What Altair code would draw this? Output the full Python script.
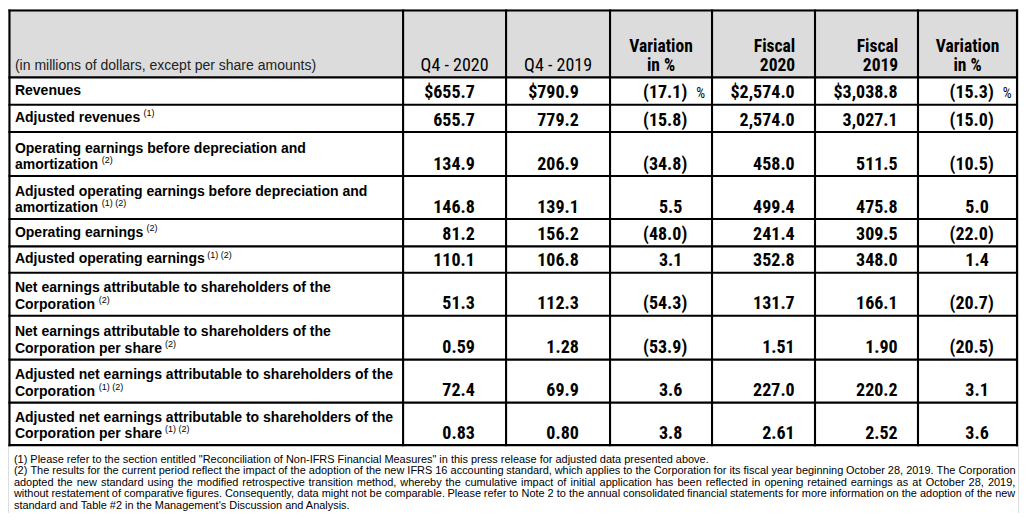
import altair as alt
import pandas as pd

# ---------------- data ----------------
unit_note = "(in millions of dollars, except per share amounts)"
col_headers = [["Q4 - 2020"], ["Q4 - 2019"], ["Variation", "in %"],
               ["Fiscal", "2020"], ["Fiscal", "2019"], ["Variation", "in %"]]
row_labels = [
    ["Revenues"],
    ["Adjusted revenues"],
    ["Operating earnings before depreciation and", "amortization"],
    ["Adjusted operating earnings before depreciation and", "amortization"],
    ["Operating earnings"],
    ["Adjusted operating earnings"],
    ["Net earnings attributable to shareholders of the", "Corporation"],
    ["Net earnings attributable to shareholders of the", "Corporation per share"],
    ["Adjusted net earnings attributable to shareholders of the", "Corporation"],
    ["Adjusted net earnings attributable to shareholders of the", "Corporation per share"],
]
row_notes = ["", "(1)", "(2)", "(1) (2)", "(2)", "(1) (2)", "(2)", "(2)", "(1) (2)", "(1) (2)"]
decimals = [1, 1, 1, 1, 1, 1, 1, 2, 1, 2]
q4_2020 = [655.7, 655.7, 134.9, 146.8, 81.2, 110.1, 51.3, 0.59, 72.4, 0.83]
q4_2019 = [790.9, 779.2, 206.9, 139.1, 156.2, 106.8, 112.3, 1.28, 69.9, 0.80]
var_q4 = [-17.1, -15.8, -34.8, 5.5, -48.0, 3.1, -54.3, -53.9, 3.6, 3.8]
fy_2020 = [2574.0, 2574.0, 458.0, 499.4, 241.4, 352.8, 131.7, 1.51, 227.0, 2.61]
fy_2019 = [3038.8, 3027.1, 511.5, 475.8, 309.5, 348.0, 166.1, 1.90, 220.2, 2.52]
var_fy = [-15.3, -15.0, -10.5, 5.0, -22.0, 1.4, -20.7, -20.5, 3.1, 3.6]
footnotes = [
    '(1) Please refer to the section entitled "Reconciliation of Non-IFRS Financial Measures" in this press release for adjusted data presented above.',
    '(2) The results for the current period reflect the impact of the adoption of the new IFRS 16 accounting standard, which applies to the Corporation for its fiscal year beginning October 28, 2019. The Corporation',
    'adopted the new standard using the modified retrospective transition method, whereby the cumulative impact of initial application has been reflected in opening retained earnings as at October 28, 2019,',
    'without restatement of comparative figures. Consequently, data might not be comparable. Please refer to Note 2 to the annual consolidated financial statements for more information on the adoption of the new',
    "standard and Table #2 in the Management's Discussion and Analysis.",
]
footnote_justified = [False, True, True, True, False]

# ---------------- layout (reference pixel grid) ----------------
X_EDGES = [3.5, 401, 505, 610, 713, 817, 921, 1021]
Y_EDGES = [3.5, 72, 100, 128, 173, 217, 245, 272, 316, 361, 405, 448.5]
VALUE_RIGHT = [473.5, 578.5, 688, 796.5, 900.5, 997.5]
HEADER_ALIGN = ["center", "center", "center", "right", "right", "center"]
PAREN_W = 5
LABEL_X = 9
FOOT_X0, FOOT_X1 = 8, 1019
FOOT_LINE1_RIGHT = 703
FOOT_BASE = [466.5, 478.2, 490.0, 501.7, 513.4]

SANS = "Liberation Sans, Arial, sans-serif"
NARROW = "Roboto Condensed, Open Sans Condensed, sans-serif"
NARROW_SIZE = 18
HEADER_SIZE = 17.5

UP = "ABCDEFGHIJKLMNOPQRSTUVWXYZ"
LO = "abcdefghijklmnopqrstuvwxyz"
AR = dict(zip(UP, [667,667,722,722,667,611,778,722,278,500,667,556,833,722,778,667,778,722,667,611,722,667,944,667,667,611]))
AR.update(zip(LO, [556,556,500,556,556,278,556,556,222,222,500,222,833,556,556,556,556,333,500,278,556,500,722,500,500,500]))
AR.update({c: 556 for c in "0123456789#$"})
AR.update({' ': 278, '"': 355, "'": 191, '(': 333, ')': 333, ',': 278, '-': 333, '.': 278, ':': 278, '%': 889})
AB = dict(zip(UP, [722,722,722,722,667,611,778,722,278,556,722,611,833,722,778,667,778,722,667,611,722,667,944,667,667,611]))
AB.update(zip(LO, [556,611,556,611,556,333,611,611,278,278,556,278,889,611,611,611,611,389,556,333,611,556,778,556,556,500]))
AB.update({c: 556 for c in "0123456789"})
AB.update({' ': 278, '(': 333, ')': 333, ',': 278, '-': 333, '.': 278})


def tw(s, size, table):
    return sum(table.get(c, 556) for c in s) * size / 1000.0


X_SCALE = alt.Scale(domain=[2, 1022], nice=False, zero=False)
Y_SCALE = alt.Scale(domain=[2, 518], reverse=True, nice=False, zero=False)


def text_layer(df, font, size, weight="normal", align="left", color="#000000"):
    return alt.Chart(df).mark_text(
        font=font, fontSize=size, fontWeight=weight, align=align,
        baseline="alphabetic", color=color
    ).encode(
        x=alt.X("x:Q", scale=X_SCALE, axis=None),
        y=alt.Y("y:Q", scale=Y_SCALE, axis=None),
        text="t:N",
    )


# ---------- grid ----------
segs = []
for yv in Y_EDGES:
    segs.append({"x": X_EDGES[0], "x2": X_EDGES[-1], "y": yv, "y2": yv})
for xv in X_EDGES:
    segs.append({"x": xv, "x2": xv, "y": Y_EDGES[0], "y2": Y_EDGES[-1]})
grid = alt.Chart(pd.DataFrame(segs)).mark_rule(
    color="#000000", strokeWidth=2.1, strokeCap="square"
).encode(
    x=alt.X("x:Q", scale=X_SCALE, axis=None), x2="x2:Q",
    y=alt.Y("y:Q", scale=Y_SCALE, axis=None), y2="y2:Q",
)
header_bg = alt.Chart(pd.DataFrame([{
    "x": X_EDGES[0], "x2": X_EDGES[-1], "y": Y_EDGES[0], "y2": Y_EDGES[1]}])
).mark_rect(color="#dcdcdc").encode(
    x=alt.X("x:Q", scale=X_SCALE, axis=None), x2="x2:Q",
    y=alt.Y("y:Q", scale=Y_SCALE, axis=None), y2="y2:Q",
)

# ---------- header ----------
unit_df = pd.DataFrame([{"x": LABEL_X, "y": 64, "t": unit_note}])
hdr_reg, hdr_bold_c, hdr_bold_r = [], [], []
for i, lines in enumerate(col_headers):
    if HEADER_ALIGN[i] == "center":
        xv = (X_EDGES[i + 1] + X_EDGES[i + 2]) / 2
    else:
        xv = VALUE_RIGHT[i] + 0.5
    bases = [65.5] if len(lines) == 1 else [46, 65]
    for ln, b in zip(lines, bases):
        rec = {"x": xv, "y": b, "t": ln}
        if len(lines) == 1:
            hdr_reg.append(rec)
        elif HEADER_ALIGN[i] == "center":
            hdr_bold_c.append(rec)
        else:
            hdr_bold_r.append(rec)

# ---------- body ----------
labels, sups, vals, pct = [], [], [], []
series = [q4_2020, q4_2019, var_q4, fy_2020, fy_2019, var_fy]
is_var = [False, False, True, False, False, True]
for r, lines in enumerate(row_labels):
    top, bot = Y_EDGES[r + 1], Y_EDGES[r + 2]
    if len(lines) == 1:
        bases = [(top + bot) / 2 + 4]
    else:
        bases = [bot - 24, bot - 7]
    for ln, b in zip(lines, bases):
        labels.append({"x": LABEL_X, "y": b, "t": ln})
    if row_notes[r]:
        sups.append({"x": LABEL_X + tw(lines[-1], 14, AB) + 4.5,
                     "y": bases[-1] - 6, "t": row_notes[r]})
    vb = bot - 6.5
    for c, s in enumerate(series):
        v = s[r]
        if is_var[c]:
            txt = f"({abs(v):.1f})" if v < 0 else f"{v:.1f}"
            xv = VALUE_RIGHT[c] - (0 if v < 0 else PAREN_W)
            if r == 0:
                pct.append({"x": VALUE_RIGHT[c] + 9, "y": vb, "t": "%"})
        else:
            txt = f"{v:,.{decimals[r]}f}"
            if r == 0:
                txt = "$" + txt
            xv = VALUE_RIGHT[c]
        vals.append({"x": xv, "y": vb, "t": txt})

# ---------- footnotes (justified lines) ----------
target = FOOT_X1 - FOOT_X0
fs = (FOOT_LINE1_RIGHT - FOOT_X0) / (tw(footnotes[0], 1000, AR) / 1000.0)
for ln, j in zip(footnotes, footnote_justified):
    if j:
        words = ln.split(" ")
        em = sum(tw(w, 1000, AR) for w in words) / 1000.0
        fs = min(fs, (target - (len(words) - 1) * 2.0) / em)
feet = []
for ln, j, b in zip(footnotes, footnote_justified, FOOT_BASE):
    if not j:
        feet.append({"x": FOOT_X0, "y": b, "t": ln})
        continue
    words = ln.split(" ")
    ws = [tw(w, fs, AR) for w in words]
    gap = (target - sum(ws)) / (len(words) - 1)
    xv = FOOT_X0
    for w, wd in zip(words, ws):
        feet.append({"x": xv, "y": b, "t": w})
        xv += wd + gap

layers = [
    header_bg,
    grid,
    text_layer(unit_df, SANS, 14, color="#222222"),
    text_layer(pd.DataFrame(hdr_reg), NARROW, NARROW_SIZE, "normal", "center"),
    text_layer(pd.DataFrame(hdr_bold_c), NARROW, HEADER_SIZE, "bold", "center"),
    text_layer(pd.DataFrame(hdr_bold_r), NARROW, HEADER_SIZE, "bold", "right"),
    text_layer(pd.DataFrame(labels), SANS, 14, "bold", "left"),
    text_layer(pd.DataFrame(sups), SANS, 9, "normal", "left"),
    text_layer(pd.DataFrame(vals), NARROW, NARROW_SIZE, "bold", "right"),
    text_layer(pd.DataFrame(pct), NARROW, 14, "normal", "left"),
    text_layer(pd.DataFrame(feet), SANS, fs, "normal", "left"),
]

chart = alt.layer(*layers).properties(
    width=1011, height=505, padding=0,
    autosize=alt.AutoSizeParams(type="fit", contains="padding"),
).configure_view(stroke=None).configure(background="#ffffff")

chart.save("out.html", embed_options={"renderer": "svg", "actions": False})
